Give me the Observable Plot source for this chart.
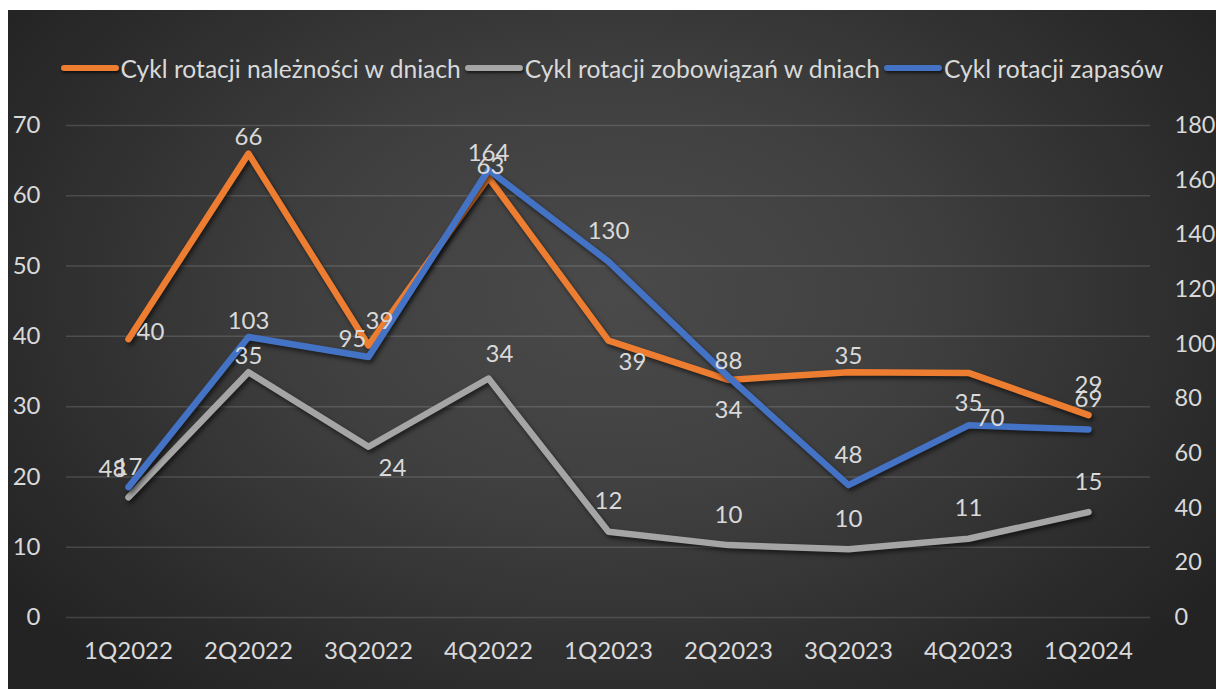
<!DOCTYPE html>
<html><head><meta charset="utf-8">
<script src="https://cdn.jsdelivr.net/npm/d3@7"></script>
<script src="https://cdn.jsdelivr.net/npm/@observablehq/plot@0.6"></script>
<style>
html,body{margin:0;padding:0;background:#ffffff;}
#frame{position:absolute;left:8px;top:10px;width:1208px;height:679px;overflow:hidden;
  background:radial-gradient(ellipse 62% 75% at 50% 42%, #4a4a4a 0%, #404040 40%, #2c2c2c 80%, #232323 100%);
  font-family:Lato,"Open Sans",sans-serif;color:#d9d9d9;}
#legend{box-sizing:border-box;height:100px;padding-top:16px;display:flex;align-items:center;justify-content:center;font-size:24.6px;}
.item{display:flex;align-items:center;margin:0 2px;}
.sw{width:58px;height:6px;border-radius:3px;margin-right:2px;box-shadow:1px 2px 3px rgba(0,0,0,0.6);}
.shadowed path{filter:drop-shadow(2px 3px 2px rgba(0,0,0,0.55));}
</style></head>
<body><div id="frame"><div id="legend"></div><div id="chart"></div></div>
<script>
const quarters = ["1Q2022","2Q2022","3Q2022","4Q2022","1Q2023","2Q2023","3Q2023","4Q2023","1Q2024"];
const receivablesDays = [39.6, 66.0, 38.7, 62.6, 39.4, 33.8, 34.9, 34.8, 28.8];
const payablesDays    = [17.1, 34.9, 24.3, 34.0, 12.2, 10.3, 9.7, 11.2, 15.0];
const inventoryDays   = [47.7, 102.6, 95.3, 163.8, 130.2, 88.0, 48.4, 70.3, 68.8];
const receivablesPlace = ["right","aboveNear","aboveRight","center","belowRight","below","aboveNear","below","above"];
const payablesPlace    = ["above","aboveNear","belowRight","aboveRight","above","above","above","above","above"];
const inventoryPlace   = ["aboveLeft","aboveNear","aboveLeft","aboveNear","above","aboveNear","above","right","above"];
const seriesNames = ["Cykl rotacji należności w dniach","Cykl rotacji zobowiązań w dniach","Cykl rotacji zapasów"];
const seriesColors = ["#ED7D31","#A5A5A5","#4472C4"];
const leftTicks = [0,10,20,30,40,50,60,70];
const rightTicks = [0,20,40,60,80,100,120,140,160,180];

const leftMax = 70, rightMax = 180, k = leftMax / rightMax;
const offsets = {
  above:[0,-30], aboveNear:[0,-16], center:[2,-11], below:[0,30],
  right:[22,-7], aboveRight:[11,-24], belowRight:[24,22], aboveLeft:[-16,-18]
};

const series = [
  {name:seriesNames[0], color:seriesColors[0], vals:receivablesDays, place:receivablesPlace, scale:1},
  {name:seriesNames[1], color:seriesColors[1], vals:payablesDays, place:payablesPlace, scale:1},
  {name:seriesNames[2], color:seriesColors[2], vals:inventoryDays, place:inventoryPlace, scale:k}
];
const rows = series.flatMap(s => s.vals.map((v,i) => ({q:quarters[i], name:s.name, v, y:v*s.scale, label:String(Math.round(v)), place:s.place[i]})));

// legend
const lg = document.getElementById("legend");
series.forEach(s => {
  const it = document.createElement("div"); it.className = "item";
  const sw = document.createElement("span"); sw.className = "sw"; sw.style.background = s.color;
  const tx = document.createElement("span"); tx.textContent = s.name;
  it.appendChild(sw); it.appendChild(tx); lg.appendChild(it);
});

const marks = [
  Plot.ruleY(leftTicks, {stroke:"#ffffff", strokeOpacity:0.14, strokeWidth:1.5}),
  Plot.axisY(leftTicks, {anchor:"left", tickSize:0, tickPadding:26, label:null, fontSize:24, fill:"#d9d9d9"}),
  Plot.axisY(rightTicks.map(t=>t*k), {anchor:"right", tickSize:0, tickPadding:24, label:null, fontSize:23.5, fill:"#d9d9d9", tickFormat:d=>String(Math.round(d/k))}),
  Plot.axisX({tickSize:0, tickPadding:24, label:null, fontSize:24, fill:"#d9d9d9"}),
  ...series.map(s => Plot.line(rows.filter(r=>r.name===s.name), {x:"q", y:"y", stroke:s.color, strokeWidth:6.5, strokeLinejoin:"round", strokeLinecap:"round", className:"shadowed"})),
  ...Object.entries(offsets).map(([key,[dx,dy]]) => Plot.text(rows.filter(r=>r.place===key), {x:"q", y:"y", text:"label", dx, dy, fill:"#d9d9d9", fontSize:24}))
];

const chart = Plot.plot({
  width:1208, height:579,
  marginLeft:58, marginRight:66, marginTop:15, marginBottom:72,
  style:{background:"transparent", fontFamily:"Lato, 'Open Sans', sans-serif", color:"#d9d9d9", overflow:"visible"},
  x:{type:"point", domain:quarters, padding:0.5, axis:null},
  y:{domain:[0,leftMax], axis:null},
  marks
});
document.getElementById("chart").appendChild(chart);
</script>
</body></html>
